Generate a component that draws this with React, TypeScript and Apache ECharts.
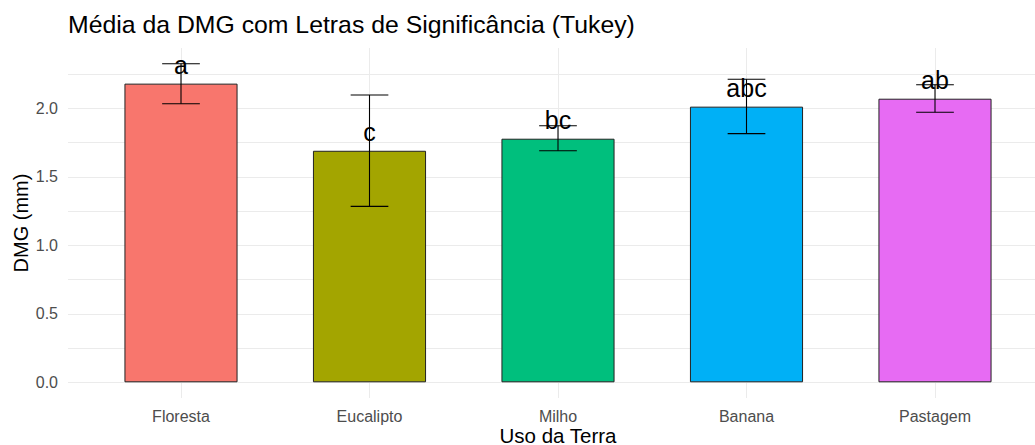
import React, { useEffect, useRef } from "react";
import * as echarts from "echarts";

const categories = ["Floresta", "Eucalipto", "Milho", "Banana", "Pastagem"];
const means = [2.18, 1.69, 1.778, 2.012, 2.07];
const lower = [2.033, 1.284, 1.69, 1.815, 1.971];
const upper = [2.325, 2.097, 1.873, 2.212, 2.172];
const letters = ["a", "c", "bc", "abc", "ab"];
const letterOffset = 0.1;
const barColors = ["#F8766D", "#A3A500", "#00BF7D", "#00B0F6", "#E76BF3"];
const yMin = 0;
const yMax = 2.25;
const yStep = 0.25;

const FONT = "'Liberation Sans', Arial, sans-serif";
const GRID_COLOR = "#ebebeb";

export default function App() {
  const ref = useRef<HTMLDivElement>(null);

  useEffect(() => {
    document.body.style.margin = "0";
    if (!ref.current) return;
    const chart = echarts.init(ref.current, undefined, { renderer: "svg" });

    const option: any = {
      animation: false,
      backgroundColor: "#ffffff",
      title: {
        text: "Média da DMG com Letras de Significância (Tukey)",
        left: 68,
        top: 12,
        padding: 0,
        textStyle: { fontSize: 24.8, fontWeight: "normal", color: "#000", fontFamily: FONT },
      },
      grid: [
        { left: 86.75, right: 5.75, top: 74.05, bottom: 62.7, outerBoundsMode: "none" },
        { left: 68, right: 0, top: 74.05, bottom: 62.7, outerBoundsMode: "none" },
        { left: 181, right: 100, top: 48, bottom: 47, outerBoundsMode: "none" },
      ],
      xAxis: [
        {
          type: "category",
          gridIndex: 0,
          data: categories,
          axisLine: { show: false },
          axisTick: { show: false },
          splitLine: { show: false },
          axisLabel: { margin: 26, fontSize: 16, color: "#4d4d4d", fontFamily: FONT },
        },
        { type: "value", gridIndex: 1, min: 0, max: 1, show: false },
        {
          type: "value",
          gridIndex: 2,
          min: 1,
          max: 5,
          interval: 1,
          axisLine: { show: false },
          axisTick: { show: false },
          axisLabel: { show: false },
          splitLine: { show: true, lineStyle: { color: GRID_COLOR, width: 1 } },
        },
      ],
      yAxis: [
        { type: "value", gridIndex: 0, min: yMin, max: yMax, show: false },
        {
          type: "value",
          gridIndex: 1,
          min: yMin,
          max: yMax,
          interval: yStep,
          axisLine: { show: false },
          axisTick: { show: false },
          splitLine: { show: true, lineStyle: { color: GRID_COLOR, width: 1 } },
          axisLabel: {
            margin: 10,
            fontSize: 16,
            color: "#4d4d4d",
            fontFamily: FONT,
            formatter: (v: number) => (Math.round(v / yStep) % 2 === 0 ? v.toFixed(1) : ""),
          },
        },
        { type: "value", gridIndex: 2, min: 0, max: 1, show: false },
      ],
      graphic: [
        {
          type: "text",
          x: 20.5,
          y: 223,
          rotation: Math.PI / 2,
          style: {
            text: "DMG (mm)",
            fontSize: 20,
            fontFamily: FONT,
            fill: "#000",
            align: "center",
            verticalAlign: "middle",
          },
        },
        {
          type: "text",
          x: 558,
          y: 435,
          style: {
            text: "Uso da Terra",
            fontSize: 20.5,
            fontFamily: FONT,
            fill: "#000",
            align: "center",
            verticalAlign: "middle",
          },
        },
      ],
      series: [
        {
          type: "bar",
          xAxisIndex: 0,
          yAxisIndex: 0,
          z: 2,
          barWidth: "60%",
          data: means.map((v, i) => ({ value: v, itemStyle: { color: barColors[i] } })),
          itemStyle: { borderColor: "#222", borderWidth: 1 },
        },
        {
          type: "custom",
          xAxisIndex: 0,
          yAxisIndex: 0,
          z: 5,
          clip: false,
          encode: { x: 0, y: [1, 2] },
          data: categories.map((_, i) => [i, lower[i], upper[i]]),
          renderItem: (params: any, api: any) => {
            const x = api.value(0);
            const lo = api.coord([x, api.value(1)]);
            const hi = api.coord([x, api.value(2)]);
            const half = api.size([1, 0])[0] * 0.1;
            const st = { stroke: "#000", lineWidth: 1.1 };
            return {
              type: "group",
              children: [
                { type: "line", shape: { x1: lo[0], y1: lo[1], x2: hi[0], y2: hi[1] }, style: st },
                { type: "line", shape: { x1: hi[0] - half, y1: hi[1], x2: hi[0] + half, y2: hi[1] }, style: st },
                { type: "line", shape: { x1: lo[0] - half, y1: lo[1], x2: lo[0] + half, y2: lo[1] }, style: st },
              ],
            };
          },
        },
        {
          type: "custom",
          xAxisIndex: 0,
          yAxisIndex: 0,
          z: 6,
          clip: false,
          encode: { x: 0, y: 1 },
          data: categories.map((_, i) => [i, means[i] + letterOffset]),
          renderItem: (params: any, api: any) => {
            const p = api.coord([api.value(0), api.value(1)]);
            return {
              type: "text",
              x: p[0],
              y: p[1] - 5,
              style: {
                text: letters[params.dataIndex],
                fontSize: 25,
                fontFamily: FONT,
                fill: "#000",
                align: "center",
                verticalAlign: "middle",
              },
            };
          },
        },
      ],
    };

    chart.setOption(option);
    return () => chart.dispose();
  }, []);

  return (
    <div
      ref={ref}
      style={{ position: "fixed", left: 0, top: 0, width: 1035, height: 445 }}
    />
  );
}
